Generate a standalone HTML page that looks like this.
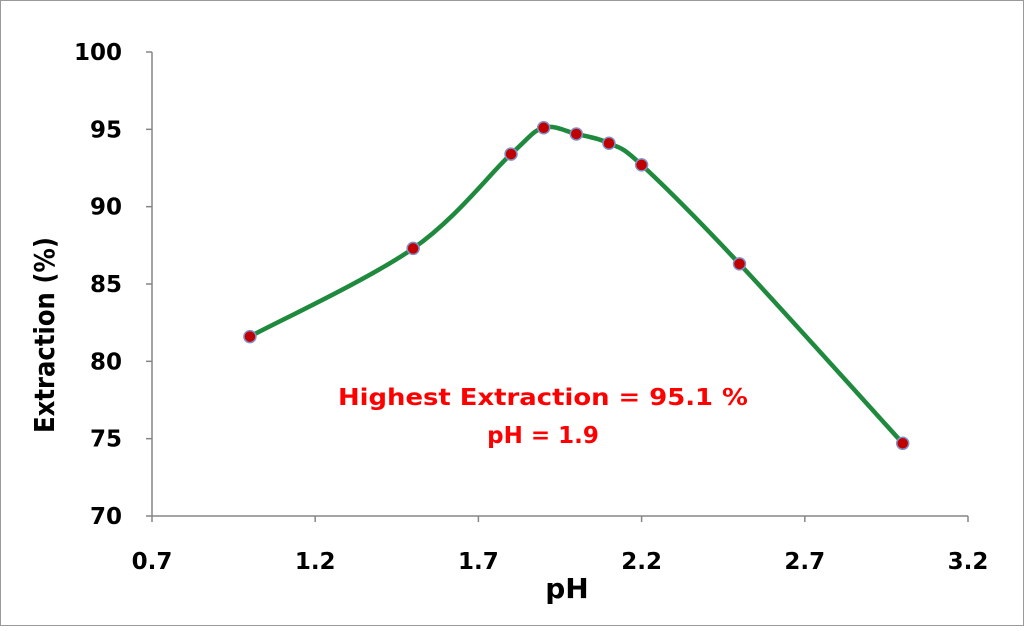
<!DOCTYPE html>
<html><head><meta charset="utf-8"><style>
body{margin:0;background:#fff}
svg text{font-family:"DejaVu Sans","Liberation Sans",sans-serif;font-weight:bold}
</style></head><body>
<svg id="c" width="1024" height="626" viewBox="0 0 1024 626">
<rect x="0.5" y="0.5" width="1023" height="625" fill="#fff" stroke="#9a9a9a"/>
<g id="g"></g>
</svg>
<script>
const xVals=[1.0,1.5,1.8,1.9,2.0,2.1,2.2,2.5,3.0];
const yVals=[81.6,87.3,93.4,95.1,94.7,94.1,92.7,86.3,74.7];
const xTicks=[0.7,1.2,1.7,2.2,2.7,3.2];
const yTicks=[70,75,80,85,90,95,100];
const X=v=>152+(v-0.7)*816/2.5;
const Y=v=>516-(v-70)*464/30;
const g=document.getElementById('g');
const NS='http://www.w3.org/2000/svg';
function mk(t,a,txt){const e=document.createElementNS(NS,t);for(const k in a)e.setAttribute(k,a[k]);if(txt!==undefined)e.textContent=txt;g.appendChild(e);return e;}
let e;
e=mk('line',{x1:152,y1:52,x2:152,y2:516,stroke:'#868686','stroke-width':1.5});


e=mk('line',{x1:152,y1:516,x2:968,y2:516,stroke:'#868686','stroke-width':1.5});


yTicks.forEach(v=>{
 e=mk('line',{x1:146,y1:Y(v),x2:152,y2:Y(v),stroke:'#868686','stroke-width':1.5});
 
 
 e=mk('text',{x:122,y:Y(v)+8,'text-anchor':'end','font-size':23,fill:'#000'},String(v));
 
 
});
xTicks.forEach(v=>{
 e=mk('line',{x1:X(v),y1:516,x2:X(v),y2:522,stroke:'#868686','stroke-width':1.5});
 
 
 e=mk('text',{x:X(v),y:569,'text-anchor':'middle','font-size':23,fill:'#000'},v.toFixed(1));
 
 
});
e=mk('text',{x:567,y:598,'text-anchor':'middle','font-size':28,fill:'#000'},'pH');


e=mk('text',{x:54,y:335,'text-anchor':'middle','font-size':28,fill:'#000',textLength:196,lengthAdjust:'spacingAndGlyphs',transform:'rotate(-90 54 335)'},'Extraction (%)');


const P=xVals.map((x,i)=>[X(x),Y(yVals[i])]);
let d='M'+P[0][0]+','+P[0][1];
for(let i=0;i<P.length-1;i++){
 const p0=P[i-1]||P[i],p1=P[i],p2=P[i+1],p3=P[i+2]||P[i+1];
 const c1=[p1[0]+(p2[0]-p0[0])/6,p1[1]+(p2[1]-p0[1])/6];
 const c2=[p2[0]-(p3[0]-p1[0])/6,p2[1]-(p3[1]-p1[1])/6];
 d+=' C'+c1+' '+c2+' '+p2;
}
e=mk('path',{d:d,fill:'none',stroke:'#1f8a3e','stroke-width':4.5});


P.forEach(p=>{
 e=mk('circle',{cx:p[0],cy:p[1],r:6,fill:'#c00000',stroke:'#8090c8','stroke-width':1.5});
 
 
});
e=mk('text',{x:543,y:405,'text-anchor':'middle','font-size':23,fill:'#ff0000',textLength:410,lengthAdjust:'spacingAndGlyphs'},'Highest Extraction = 95.1 %');


e=mk('text',{x:543,y:443,'text-anchor':'middle','font-size':23,fill:'#ff0000'},'pH = 1.9');


</script>
</body></html>
